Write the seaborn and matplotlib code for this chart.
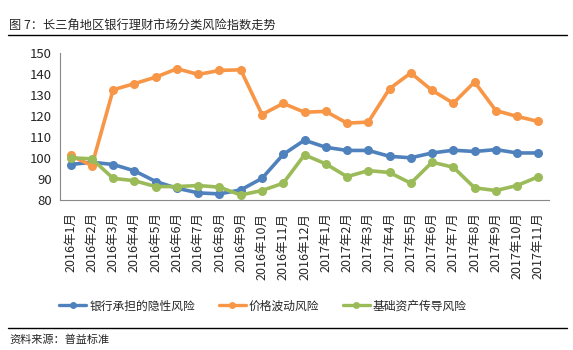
import matplotlib
matplotlib.use("Agg")
import matplotlib.pyplot as plt
import seaborn as sns
import pandas as pd
from matplotlib.lines import Line2D
from matplotlib.ticker import FixedLocator

sns.set_style("white")
plt.rcParams['font.family'] = ['Noto Sans CJK SC', 'DejaVu Sans']

months = ["2016年1月", "2016年2月", "2016年3月", "2016年4月", "2016年5月", "2016年6月",
          "2016年7月", "2016年8月", "2016年9月", "2016年10月", "2016年11月", "2016年12月",
          "2017年1月", "2017年2月", "2017年3月", "2017年4月", "2017年5月", "2017年6月",
          "2017年7月", "2017年8月", "2017年9月", "2017年10月", "2017年11月"]
bank_risk = [96.9, 98.0, 96.9, 93.9, 88.8, 85.6, 83.4, 82.9, 84.8, 90.3, 101.7, 108.5,
             105.1, 103.6, 103.6, 100.8, 100.1, 102.4, 103.7, 103.1, 104.0, 102.4, 102.4]
price_risk = [101.2, 96.4, 132.5, 135.4, 138.5, 142.5, 139.8, 141.7, 142.0, 120.7, 126.0, 121.8,
              122.2, 116.6, 117.1, 133.0, 140.5, 132.2, 126.1, 136.2, 122.6, 119.8, 117.4]
base_risk = [100.1, 99.6, 90.3, 89.2, 86.4, 86.4, 86.9, 86.1, 82.4, 84.5, 88.0, 101.5,
             97.2, 91.1, 94.0, 93.1, 88.0, 98.0, 95.6, 85.8, 84.5, 86.9, 91.1]
series_names = ["银行承担的隐性风险", "价格波动风险", "基础资产传导风险"]
yticks = [80, 90, 100, 110, 120, 130, 140, 150]
colors = ["#4F81BD", "#F79646", "#9BBB59"]

rows = []
for name, vals in zip(series_names, [bank_risk, price_risk, base_risk]):
    for i, v in enumerate(vals):
        rows.append({"idx": i, "value": v, "series": name})
df = pd.DataFrame(rows)

fig = plt.figure(figsize=(5.73, 3.5), dpi=100)
ax = fig.add_axes([60/573, 150/350, 489/573, 147/350])
sns.lineplot(data=df, x="idx", y="value", hue="series", hue_order=series_names,
             palette=colors, marker="o", markersize=6.5, markeredgewidth=0,
             linewidth=2.6, ax=ax, legend=False)

ax.set_xlim(-0.5, len(months) - 0.5)
ax.set_ylim(80, 150)
ax.set_yticks(yticks)
ax.set_xticks(range(len(months)))
ax.set_xticklabels(months, rotation=90, fontsize=9)
ax.xaxis.set_minor_locator(FixedLocator([i - 0.5 for i in range(len(months) + 1)]))
ax.tick_params(axis="x", which="major", length=0, pad=9)
ax.tick_params(axis="x", which="minor", length=4, color="#888888", direction="out")
ax.tick_params(axis="y", length=4, color="#888888", direction="out", labelsize=9.5, pad=2)
ax.set_xlabel("")
ax.set_ylabel("")
for s in ["top", "right"]:
    ax.spines[s].set_visible(False)
for s in ["left", "bottom"]:
    ax.spines[s].set_color("#888888")
    ax.spines[s].set_linewidth(0.8)

handles = [Line2D([0], [0], color=c, lw=2.4, marker="o", markersize=5, markeredgewidth=0)
           for c in colors]
fig.legend(handles, series_names, loc="center", bbox_to_anchor=(263/573, 44/350), ncol=3,
           frameon=False, fontsize=8.5, handlelength=2.3, columnspacing=2.0, handletextpad=0.25)

fig.text(9/573, 1 - 26/350, "图 7：长三角地区银行理财市场分类风险指数走势", fontsize=8.8,
         va="center", ha="left")
fig.add_artist(Line2D([8/573, 567/573], [1 - 35/350, 1 - 35/350], color="black", lw=1))
fig.add_artist(Line2D([8/573, 567/573], [1 - 328/350, 1 - 328/350], color="black", lw=1))
fig.text(9/573, 1 - 340/350, "资料来源：普益标准", fontsize=8, va="center", ha="left")

fig.savefig("out.png", dpi=100)
